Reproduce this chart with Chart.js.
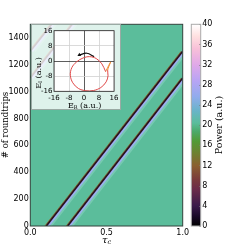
<!DOCTYPE html>
<html>
<head>
<meta charset="utf-8">
<script src="https://cdn.jsdelivr.net/npm/chart.js@4.4.1/dist/chart.umd.min.js"></script>
<style>
html, body { margin: 0; padding: 0; background: #fff; }
#wrap { position: relative; width: 245px; height: 252px; overflow: hidden; }
canvas { position: absolute; }
</style>
</head>
<body>
<div id="wrap">
<canvas id="main" width="192" height="252" style="left:0;top:0"></canvas>
<canvas id="cbar" width="55" height="252" style="left:190px;top:0"></canvas>
<canvas id="inset" width="90" height="86" style="left:31px;top:24px"></canvas>
</div>
<script>
// main map: two dark pulses drifting across the window
var roundtripTicks = [0, 200, 400, 600, 800, 1000, 1200, 1400];
var tauTicks = [0.0, 0.5, 1.0];
var maxRoundtrip = 1500;
var pulseStartTau = [0.105, 0.245];     // tau_c at roundtrip 0
var pulseExitRoundtrip = [1300, 1100];  // roundtrip where the pulse hits tau_c = 1
var pulseTopTau = [0.14, 0.275];        // tau_c of the wrapped pulse at the last roundtrip

// colour bar
var powerTicks = [0, 4, 8, 12, 16, 20, 24, 28, 32, 36, 40];
var powerMax = [40];

// inset: field trajectory
var trajRe = [11.5, 14.2, 12.6, 12.8, 11.8, 9, 5, 1, -3, -6, -7.3, -6.5, -4, -0.5, 3, 6.5, 9.5, 11.5];
var trajIm = [-5.6, -0.5, -4.8, -7.8, -11, -14, -15.6, -15.7, -14.5, -11.5, -7.5, -3.5, -0.5, 1.6, 2.3, 1.3, -1.5, -5.6];
var arrowRe = [5.4, 1.5, -2.5];
var arrowIm = [2.3, 4.1, 3.2];
var fieldTicks = [-16, -8, 0, 8, 16];

var tickFont = { family: 'DejaVu Sans', size: 8 };

function fixTicks(list) {
   return function (s) { s.ticks = list.map(function (v) { return { value: v }; }); };
}
function plain(v) { return String(v); }

// draws a label with an optional subscript, centred at x,y
function subLabel(ctx, x, y, rot, parts) {
   ctx.save();
   ctx.translate(x, y);
   ctx.rotate(rot);
   ctx.fillStyle = '#000';
   ctx.textBaseline = 'middle';
   ctx.textAlign = 'left';
   var w = 0;
   parts.forEach(function (p) { ctx.font = p.font; p.w = ctx.measureText(p.t).width; w += p.w; });
   var cx = -w / 2;
   parts.forEach(function (p) {
      ctx.font = p.font;
      ctx.fillText(p.t, cx, p.dy || 0);
      cx += p.w;
   });
   ctx.restore();
}

// ---- main chart ----
var layers = [
   { color: '#2a0f1e', width: 1.7, shift: 0, order: 0 },
   { color: '#8a6a2a', width: 1, shift: -1.4, order: 1 },
   { color: '#9cb0f0', width: 2.6, shift: 1.7, order: 2 },
   { color: 'rgba(150,215,205,0.45)', width: 2.5, shift: 4.2, order: 3 }
];

var segments = [];
for (var i = 0; i < pulseStartTau.length; i++) {
   segments.push([{ x: pulseStartTau[i], y: 0 }, { x: 1, y: pulseExitRoundtrip[i] }]);
   segments.push([{ x: 0, y: pulseExitRoundtrip[i] }, { x: pulseTopTau[i], y: maxRoundtrip }]);
}

var mainSets = [];
layers.forEach(function (l) {
   segments.forEach(function (seg) {
      mainSets.push({
         data: seg,
         showLine: true,
         borderColor: l.color,
         borderWidth: l.width,
         pointRadius: 0,
         order: l.order,
         shiftX: l.shift
      });
   });
});

var mainDecor = {
   id: 'mainDecor',
   beforeDatasetsDraw: function (chart) {
      var a = chart.chartArea, ctx = chart.ctx;
      ctx.save();
      ctx.fillStyle = '#5bbd9b';
      ctx.fillRect(a.left, a.top, a.right - a.left, a.bottom - a.top);
      ctx.restore();
   },
   beforeDatasetDraw: function (chart, args) {
      var a = chart.chartArea, ctx = chart.ctx;
      ctx.save();
      ctx.beginPath();
      ctx.rect(a.left, a.top, a.right - a.left, a.bottom - a.top);
      ctx.clip();
      ctx.translate(chart.data.datasets[args.index].shiftX || 0, 0);
   },
   afterDatasetDraw: function (chart) {
      chart.ctx.restore();
   },
   afterDraw: function (chart) {
      var a = chart.chartArea, ctx = chart.ctx;
      ctx.save();
      ctx.strokeStyle = '#33433d';
      ctx.lineWidth = 1;
      ctx.strokeRect(a.left, a.top, a.right - a.left, a.bottom - a.top);
      ctx.restore();
      subLabel(ctx, 5.5, 125, -Math.PI / 2, [{ t: '# of roundtrips', font: '8.5px DejaVu Serif' }]);
      subLabel(ctx, 106.5, 240, 0, [
         { t: '\u03c4', font: 'italic 10px DejaVu Serif' },
         { t: 'c', font: 'italic 6.5px DejaVu Serif', dy: 2.5 }
      ]);
   }
};

new Chart('main', {
   type: 'scatter',
   data: { datasets: mainSets },
   options: {
      responsive: false,
      devicePixelRatio: 1,
      animation: false,
      layout: { padding: { left: 0, top: 24.3, right: 9.3, bottom: 0 } },
      plugins: { legend: { display: false }, tooltip: { enabled: false } },
      scales: {
         x: {
            type: 'linear', min: 0, max: 1,
            afterBuildTicks: fixTicks(tauTicks),
            afterFit: function (s) { s.height = 26; },
            ticks: { font: tickFont, color: '#000', padding: 2, maxRotation: 0,
               callback: function (v) { return v.toFixed(1); } },
            grid: { display: false, drawTicks: false },
            border: { display: false }
         },
         y: {
            type: 'linear', min: 0, max: maxRoundtrip,
            afterBuildTicks: fixTicks(roundtripTicks),
            afterFit: function (s) { s.width = 30.3; },
            ticks: { font: tickFont, color: '#000', padding: 1.5, callback: plain },
            grid: { display: false, drawTicks: false },
            border: { display: false }
         }
      }
   },
   plugins: [mainDecor]
});

// ---- colour bar ----
var barStops = [
   [0.00, '#000000'], [0.05, '#1a0a2a'], [0.10, '#3a1a4a'], [0.18, '#6a2a4a'],
   [0.23, '#7a3a3c'], [0.30, '#8a6030'], [0.36, '#6e8030'], [0.42, '#529a36'],
   [0.47, '#4caa6c'], [0.51, '#5bbd9b'], [0.57, '#68b4c8'], [0.64, '#90acec'],
   [0.72, '#b8a4f4'], [0.80, '#e0a8e8'], [0.88, '#f8c0d8'], [0.94, '#ffe0e0'],
   [1.00, '#ffffff']
];

new Chart('cbar', {
   type: 'bar',
   data: {
      labels: [''],
      datasets: [{
         data: powerMax,
         borderWidth: 0,
         barPercentage: 1,
         categoryPercentage: 1,
         backgroundColor: function (c) {
            var a = c.chart.chartArea;
            if (!a) return '#5bbd9b';
            var g = c.chart.ctx.createLinearGradient(0, a.bottom, 0, a.top);
            barStops.forEach(function (s) { g.addColorStop(s[0], s[1]); });
            return g;
         }
      }]
   },
   options: {
      responsive: false,
      devicePixelRatio: 1,
      animation: false,
      layout: { padding: { left: 1.3, top: 24.3, right: 0, bottom: 26 } },
      plugins: { legend: { display: false }, tooltip: { enabled: false } },
      scales: {
         x: { display: false },
         y: {
            position: 'right', min: 0, max: 40,
            afterBuildTicks: fixTicks(powerTicks),
            afterFit: function (s) { s.width = 44.3; },
            ticks: { font: tickFont, color: '#000', padding: 1.5, callback: plain },
            grid: { display: false, drawTicks: false },
            border: { display: false }
         }
      }
   },
   plugins: [{
      id: 'cbarDecor',
      afterDraw: function (chart) {
         var a = chart.chartArea, ctx = chart.ctx, ys = chart.scales.y;
         ctx.save();
         ctx.strokeStyle = '#777';
         ctx.lineWidth = 0.8;
         ys.ticks.forEach(function (t) {
            var py = Math.round(ys.getPixelForValue(t.value)) + 0.5;
            ctx.beginPath();
            ctx.moveTo(a.right - 1.5, py);
            ctx.lineTo(a.right, py);
            ctx.stroke();
         });
         ctx.strokeStyle = '#aaa';
         ctx.lineWidth = 1;
         ctx.strokeRect(a.left, a.top, a.right - a.left, a.bottom - a.top);
         ctx.restore();
         subLabel(ctx, 30, 125, -Math.PI / 2, [{ t: 'Power (a.u.)', font: '9.5px DejaVu Serif' }]);
      }
   }]
});

// ---- inset ----
var trajPts = trajRe.map(function (v, k) { return { x: v, y: trajIm[k] }; });
var arrowPts = arrowRe.map(function (v, k) { return { x: v, y: arrowIm[k] }; });

new Chart('inset', {
   type: 'scatter',
   data: {
      datasets: [{
         data: trajPts,
         showLine: true,
         borderColor: '#e04a4a',
         borderWidth: 1,
         pointRadius: 0,
         tension: 0.35,
         segment: {
            borderColor: function (c) { return c.p0DataIndex < 2 ? '#f08a30' : '#e04a4a'; }
         }
      }, {
         data: arrowPts,
         showLine: true,
         borderColor: '#111',
         borderWidth: 1.2,
         tension: 0.4,
         pointRadius: [0, 0, 2.2],
         pointStyle: 'triangle',
         rotation: -120,
         pointBackgroundColor: '#111',
         pointBorderWidth: 0
      }]
   },
   options: {
      responsive: false,
      devicePixelRatio: 1,
      animation: false,
      layout: { padding: { left: 0, top: 6.7, right: 5.7, bottom: 0 } },
      plugins: { legend: { display: false }, tooltip: { enabled: false } },
      scales: {
         x: {
            type: 'linear', min: -16, max: 16,
            afterBuildTicks: fixTicks(fieldTicks),
            afterFit: function (s) { s.height = 18.7; },
            ticks: { font: { family: 'DejaVu Sans', size: 7 }, color: '#000', padding: 2.5, maxRotation: 0 },
            grid: { drawTicks: false, lineWidth: 0.8,
               color: function (c) { return c.tick && c.tick.value === 0 ? '#333' : '#d0d0d0'; } },
            border: { display: false }
         },
         y: {
            type: 'linear', min: -16, max: 16,
            afterBuildTicks: fixTicks(fieldTicks),
            afterFit: function (s) { s.width = 23; },
            ticks: { font: { family: 'DejaVu Sans', size: 7 }, color: '#000', padding: 1.5 },
            grid: { drawTicks: false, lineWidth: 0.8,
               color: function (c) { return c.tick && c.tick.value === 0 ? '#333' : '#d0d0d0'; } },
            border: { display: false }
         }
      }
   },
   plugins: [{
      id: 'insetDecor',
      beforeDraw: function (chart) {
         var a = chart.chartArea, ctx = chart.ctx;
         ctx.save();
         ctx.fillStyle = 'rgba(255,255,255,0.8)';
         ctx.fillRect(0, 0, chart.width, chart.height);
         ctx.strokeStyle = '#9aaaa4';
         ctx.lineWidth = 1;
         ctx.strokeRect(0.5, 0.5, chart.width - 1, chart.height - 1);
         ctx.fillStyle = '#fff';
         ctx.fillRect(a.left, a.top, a.right - a.left, a.bottom - a.top);
         ctx.restore();
      },
      afterDraw: function (chart) {
         var a = chart.chartArea, ctx = chart.ctx;
         ctx.save();
         ctx.strokeStyle = '#222';
         ctx.lineWidth = 0.8;
         ctx.strokeRect(a.left, a.top, a.right - a.left, a.bottom - a.top);
         ctx.restore();
         subLabel(ctx, 53.6, 82, 0, [
            { t: 'E', font: '8px DejaVu Serif' },
            { t: 'R', font: '5px DejaVu Serif', dy: 2 },
            { t: ' (a.u.)', font: '8px DejaVu Serif' }
         ]);
         subLabel(ctx, 7.5, 49, -Math.PI / 2, [
            { t: 'E', font: '8px DejaVu Serif' },
            { t: 'I', font: '5px DejaVu Serif', dy: 2 },
            { t: ' (a.u.)', font: '8px DejaVu Serif' }
         ]);
      }
   }]
});
</script>
</body>
</html>
